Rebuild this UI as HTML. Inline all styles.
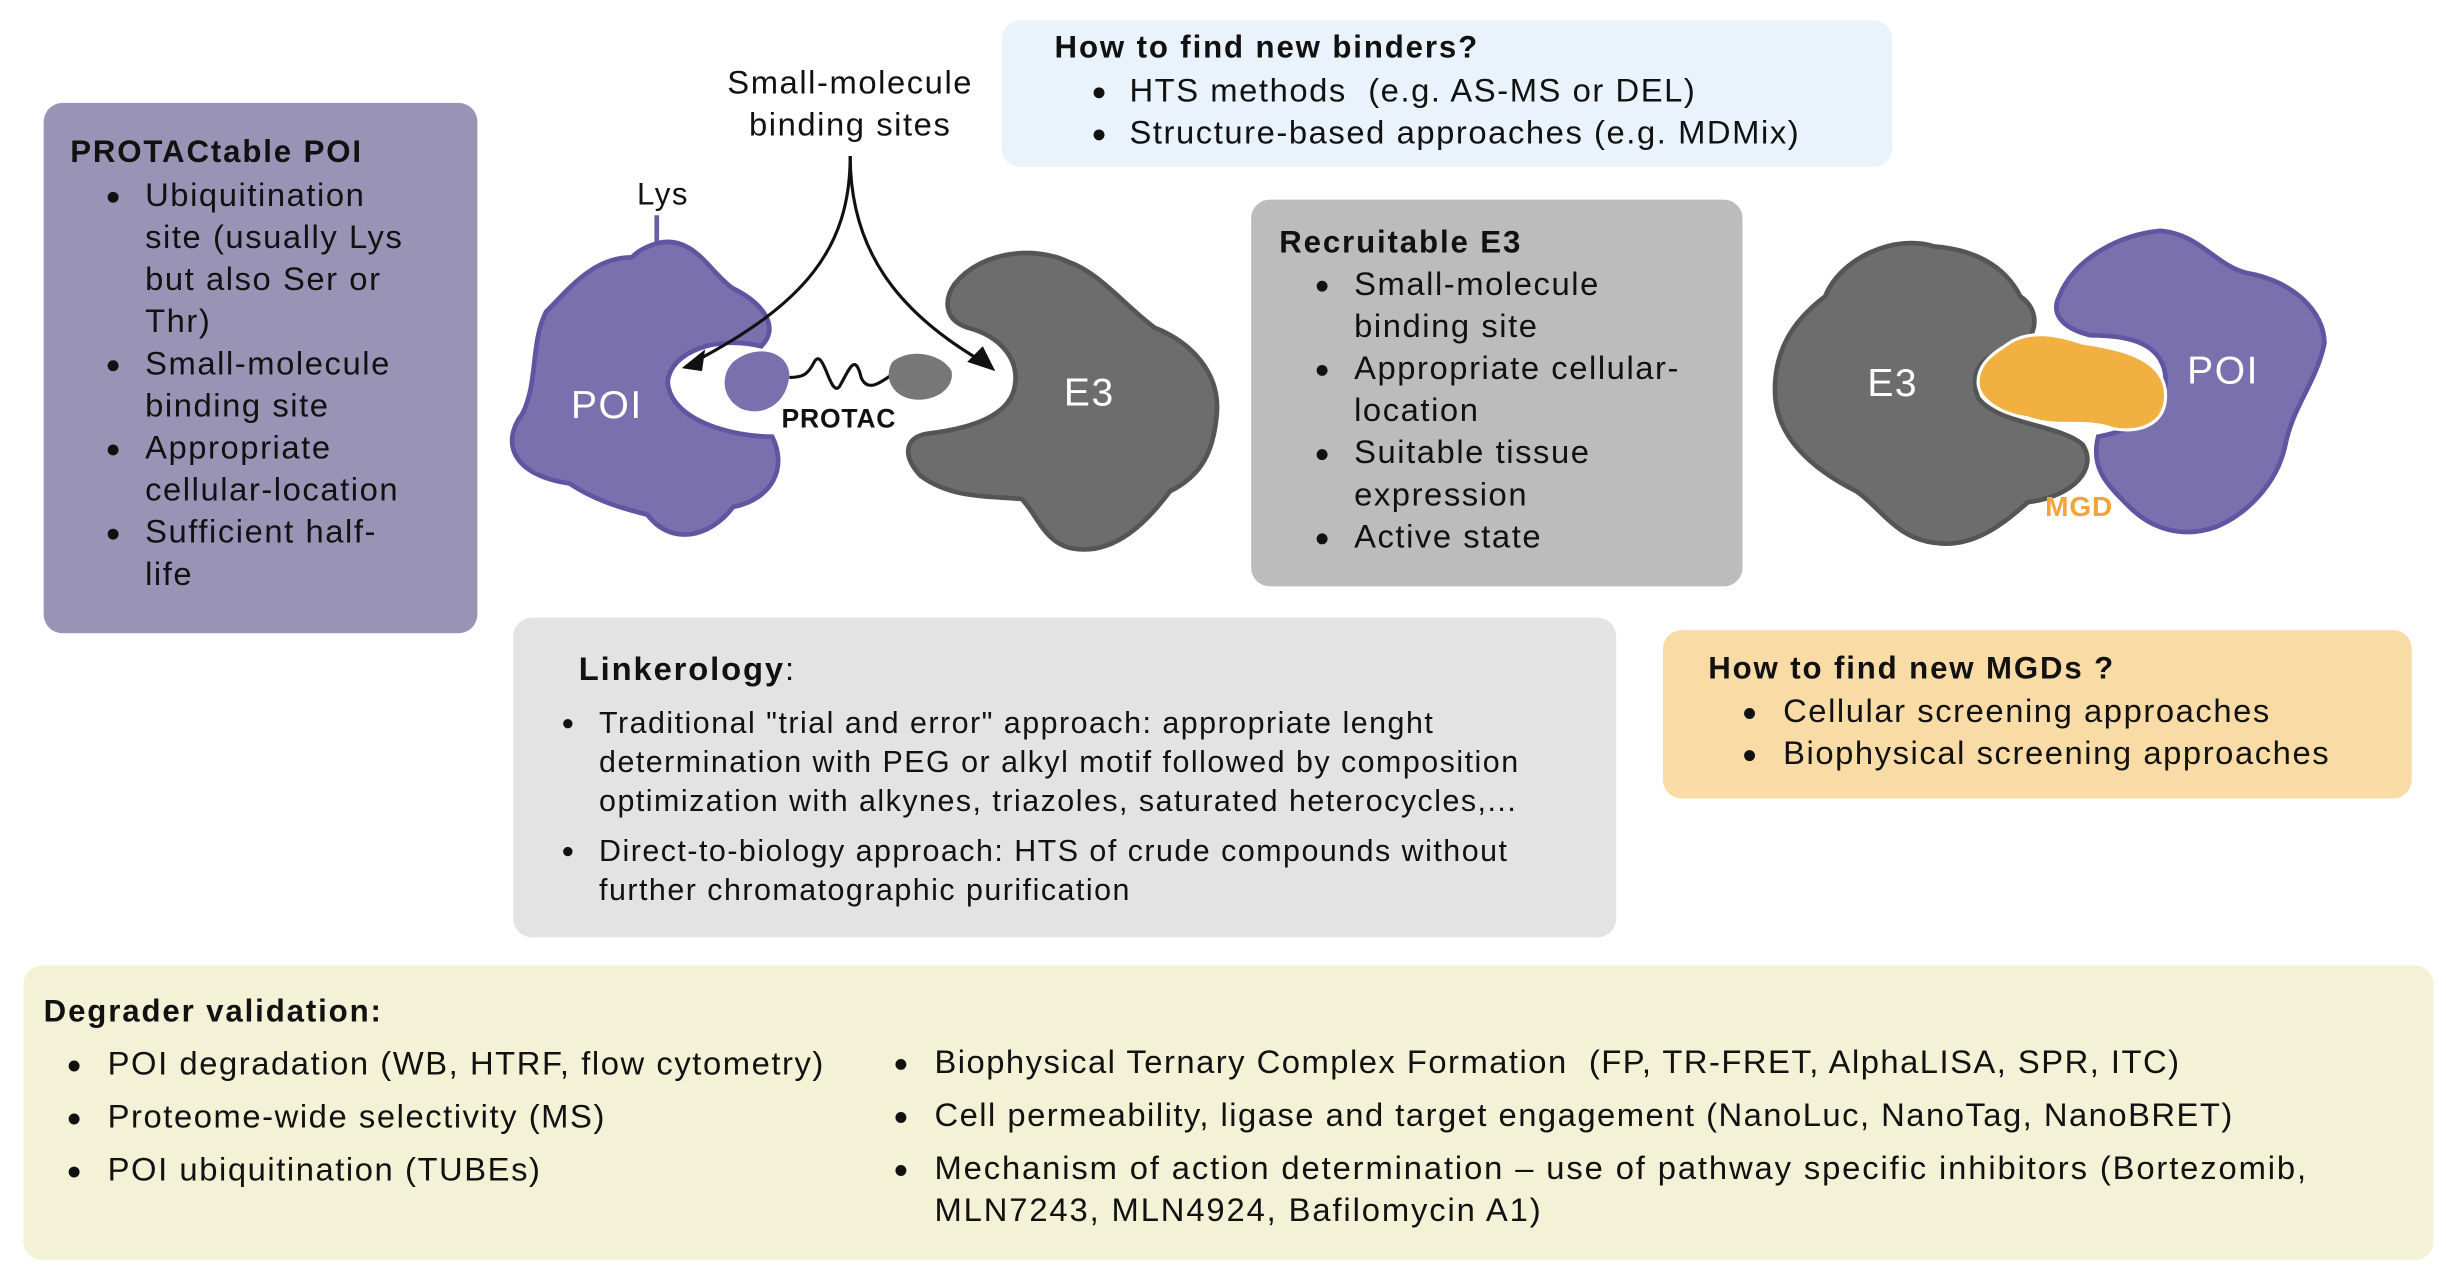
<!DOCTYPE html>
<html><head><meta charset="utf-8"><style>
html,body{margin:0;padding:0;background:#fff;}
#wrap{width:2446px;height:1282px;overflow:hidden;position:relative;}
#c{position:absolute;left:0;top:0;width:1568px;height:822px;transform:scale(1.56,1.5596);transform-origin:0 0;font-family:"Liberation Sans",sans-serif;color:#111;}
.box{position:absolute;border-radius:12px;}
.t{position:absolute;white-space:nowrap;font-size:21px;line-height:27px;letter-spacing:1px;}
.b{font-weight:bold;letter-spacing:1.2px;}
.d{position:absolute;width:7px;height:7px;border-radius:50%;background:#111;}
.s{font-size:19.5px;line-height:25px;letter-spacing:0.95px;}
</style></head><body><div id="wrap"><div id="c">

<div class="box" style="left:28px;top:66px;width:278px;height:340px;background:#9994b5;"></div>
<div class="box" style="left:642px;top:13px;width:571px;height:94px;background:#eaf2fc;"></div>
<div class="box" style="left:802px;top:128px;width:315px;height:248px;background:#bcbcbc;"></div>
<div class="box" style="left:329px;top:396px;width:707px;height:205px;background:#e3e3e3;"></div>
<div class="box" style="left:1066px;top:404px;width:480px;height:108px;background:#f9dba6;"></div>
<div class="box" style="left:15px;top:619px;width:1545px;height:189px;background:#f3f2d6;"></div>

<svg style="position:absolute;left:0;top:0" width="1568" height="822">
 <line x1="421" y1="138" x2="421" y2="158" stroke="#6a5fa8" stroke-width="3"/>
 <path d="M421 156 C445 150 455 175 470 185 C490 195 500 210 488 222 C460 215 430 225 428 245 C430 270 470 280 495 280 C505 300 495 320 470 325 C455 345 430 350 415 330 C395 325 380 320 365 310 C330 305 320 285 335 265 C345 245 340 220 350 200 C365 185 380 165 405 165 C410 160 415 158 421 156 Z" fill="#7a70ad" stroke="#5f55a0" stroke-width="3"/>
 <path d="M470 232 C485 220 505 225 506 240 C505 258 490 268 475 262 C462 255 462 240 470 232 Z" fill="#7a70ad"/>
 <path d="M506 242 C515 242 518 240 522 232 C528 222 532 255 538 248 C544 238 548 225 552 242 C556 252 565 245 572 240" fill="none" stroke="#111" stroke-width="2"/>
 <path d="M572 232 C585 222 605 228 610 238 C612 250 598 258 585 256 C572 254 566 242 572 232 Z" fill="#777"/>
 <path d="M612 182 C630 160 665 158 685 168 C705 175 720 195 740 210 C765 220 782 240 780 265 C778 290 770 305 750 315 C735 335 715 355 690 352 C670 350 665 330 655 320 C635 318 610 320 590 305 C578 292 580 280 595 278 C620 275 645 268 650 250 C655 230 640 215 620 210 C605 205 605 192 612 182 Z" fill="#6d6d6d" stroke="#555" stroke-width="3"/>
 <path d="M545 100 C545 160 515 195 445 232" fill="none" stroke="#111" stroke-width="2"/>
 <path d="M545 100 C545 160 575 200 630 232" fill="none" stroke="#111" stroke-width="2"/>
 <polygon points="437,236 452,224 450,238" fill="#111"/>
 <polygon points="638,238 620,232 630,222" fill="#111"/>
 <path d="M1170 190 C1180 165 1215 150 1240 158 C1265 160 1285 170 1295 190 C1310 200 1305 220 1290 225 C1270 225 1262 240 1268 255 C1280 272 1320 272 1335 285 C1345 300 1330 318 1300 322 C1285 335 1265 352 1240 348 C1215 345 1205 325 1190 315 C1160 300 1140 280 1138 255 C1136 225 1150 205 1170 190 Z" fill="#6d6d6d" stroke="#555" stroke-width="3"/>
 <path d="M1320 190 C1330 165 1360 150 1385 148 C1410 150 1420 170 1440 175 C1470 180 1490 200 1490 220 C1485 245 1470 260 1465 285 C1460 310 1440 330 1420 338 C1400 345 1380 340 1365 325 C1350 310 1340 300 1345 280 C1370 275 1390 265 1388 240 C1385 220 1365 215 1340 215 C1320 210 1315 200 1320 190 Z" fill="#7a70ad" stroke="#5f55a0" stroke-width="3"/>
 <path d="M1285 222 C1300 210 1320 215 1335 220 C1355 223 1385 228 1388 250 C1390 270 1375 278 1355 275 C1335 268 1320 275 1300 268 C1280 265 1268 255 1268 245 C1268 235 1275 228 1285 222 Z" fill="#f2b040" stroke="#fff" stroke-width="2"/>
</svg>

<div class="t" style="left:425px;top:112px;width:0"><span style="position:absolute;transform:translateX(-50%);font-size:20px">Lys</span></div>
<div class="t" style="left:435px;top:40px;width:220px;text-align:center;line-height:27px">Small-molecule<br>binding sites</div>
<div class="t" style="left:366px;top:245px;color:#fff;font-size:25px;line-height:30px">POI</div>
<div class="t b" style="left:501px;top:258px;font-size:17px;line-height:22px;letter-spacing:0.5px">PROTAC</div>
<div class="t" style="left:682px;top:237px;color:#fff;font-size:25px;line-height:30px">E3</div>
<div class="t" style="left:1197px;top:231px;color:#fff;font-size:25px;line-height:30px">E3</div>
<div class="t" style="left:1402px;top:223px;color:#fff;font-size:25px;line-height:30px">POI</div>
<div class="t b" style="left:1311px;top:314px;color:#f2a43a;font-size:18px;line-height:22px;letter-spacing:0.5px">MGD</div>

<div class="t b" style="left:45px;top:85px;font-size:20px">PROTACtable POI</div>
<div class="d" style="left:69px;top:123px"></div><div class="d" style="left:69px;top:231px"></div><div class="d" style="left:69px;top:285px"></div><div class="d" style="left:69px;top:339px"></div>
<div class="t" style="left:93px;top:112px;line-height:27px">Ubiquitination<br>site (usually Lys<br>but also Ser or<br>Thr)<br>Small-molecule<br>binding site<br>Appropriate<br>cellular-location<br>Sufficient half-<br>life</div>

<div class="t b" style="left:676px;top:18px;font-size:20px">How to find new binders?</div>
<div class="d" style="left:701px;top:56px"></div><div class="d" style="left:701px;top:83px"></div>
<div class="t" style="left:724px;top:45px">HTS methods&nbsp; (e.g. AS-MS or DEL)<br>Structure-based approaches (e.g. MDMix)</div>

<div class="t b" style="left:820px;top:143px;font-size:20px">Recruitable E3</div>
<div class="d" style="left:844px;top:180px"></div><div class="d" style="left:844px;top:234px"></div><div class="d" style="left:844px;top:288px"></div><div class="d" style="left:844px;top:342px"></div>
<div class="t" style="left:868px;top:169px">Small-molecule<br>binding site<br>Appropriate cellular-<br>location<br>Suitable tissue<br>expression<br>Active state</div>

<div class="t" style="left:371px;top:416px"><b style="letter-spacing:1.2px">Linkerology</b>:</div>
<div class="d" style="left:361px;top:461px;width:6px;height:6px"></div><div class="d" style="left:361px;top:543px;width:6px;height:6px"></div>
<div class="t s" style="left:384px;top:452px">Traditional "trial and error" approach: appropriate lenght<br>determination with PEG or alkyl motif followed by composition<br>optimization with alkynes, triazoles, saturated heterocycles,...</div>
<div class="t s" style="left:384px;top:534px">Direct-to-biology approach: HTS of crude compounds without<br>further chromatographic purification</div>

<div class="t b" style="left:1095px;top:416px;font-size:20px">How to find new MGDs ?</div>
<div class="d" style="left:1118px;top:454px"></div><div class="d" style="left:1118px;top:481px"></div>
<div class="t" style="left:1143px;top:443px">Cellular screening approaches<br>Biophysical screening approaches</div>

<div class="t b" style="left:28px;top:636px;font-size:20px">Degrader validation:</div>
<div class="d" style="left:44px;top:680px"></div><div class="d" style="left:44px;top:714px"></div><div class="d" style="left:44px;top:748px"></div>
<div class="t" style="left:69px;top:669px">POI degradation (WB, HTRF, flow cytometry)</div>
<div class="t" style="left:69px;top:703px">Proteome-wide selectivity (MS)</div>
<div class="t" style="left:69px;top:737px">POI ubiquitination (TUBEs)</div>
<div class="d" style="left:574px;top:679px"></div><div class="d" style="left:574px;top:713px"></div><div class="d" style="left:574px;top:747px"></div>
<div class="t" style="left:599px;top:668px;letter-spacing:0.95px">Biophysical Ternary Complex Formation&nbsp; (FP, TR-FRET, AlphaLISA, SPR, ITC)</div>
<div class="t" style="left:599px;top:702px;letter-spacing:0.95px">Cell permeability, ligase and target engagement (NanoLuc, NanoTag, NanoBRET)</div>
<div class="t" style="left:599px;top:736px;letter-spacing:1.2px">Mechanism of action determination – use of pathway specific inhibitors (Bortezomib,<br>MLN7243, MLN4924, Bafilomycin A1)</div>

</div></div></body></html>
